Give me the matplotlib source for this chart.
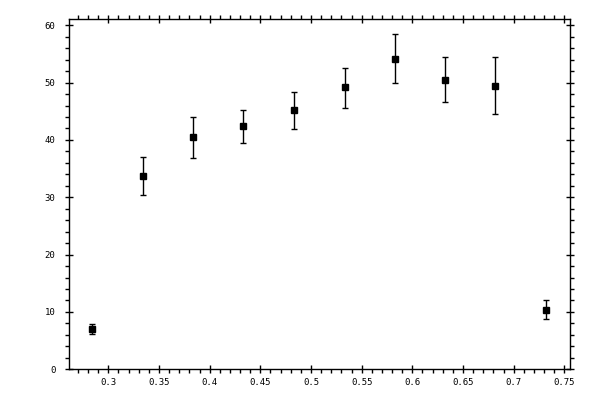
import matplotlib
matplotlib.use("Agg")
import matplotlib.pyplot as plt
from matplotlib.ticker import MultipleLocator, FixedLocator, FixedFormatter

x_vals = [0.2842, 0.3345, 0.3839, 0.4332, 0.4836, 0.5333, 0.5832, 0.6326, 0.6819, 0.7319]
y_vals = [7.0, 33.7, 40.5, 42.4, 45.2, 49.2, 54.1, 50.4, 49.4, 10.3]
err_low = [0.85, 3.35, 3.7, 3.0, 3.3, 3.7, 4.2, 3.8, 4.9, 1.5]
err_high = [0.85, 3.3, 3.45, 2.8, 3.1, 3.4, 4.3, 4.0, 5.0, 1.7]

x_ticks = [0.3, 0.35, 0.4, 0.45, 0.5, 0.55, 0.6, 0.65, 0.7, 0.75]
x_tick_labels = ["0.3", "0.35", "0.4", "0.45", "0.5", "0.55", "0.6", "0.65", "0.7", "0.75"]
y_ticks = [0, 10, 20, 30, 40, 50, 60]
y_tick_labels = ["0", "10", "20", "30", "40", "50", "60"]

fig = plt.figure(figsize=(6, 4), dpi=100)
ax = fig.add_axes([0.1155, 0.0768, 0.95 - 0.1155, 0.9518 - 0.0768])

ax.errorbar(x_vals, y_vals, yerr=[err_low, err_high], fmt='s', color='black',
            markersize=4.8, ecolor='black', elinewidth=1.0, capsize=2.2, capthick=1.0)

ax.set_xlim(0.2615, 0.7556)
ax.set_ylim(0, 61.05)

ax.xaxis.set_major_locator(FixedLocator(x_ticks))
ax.xaxis.set_major_formatter(FixedFormatter(x_tick_labels))
ax.yaxis.set_major_locator(FixedLocator(y_ticks))
ax.yaxis.set_major_formatter(FixedFormatter(y_tick_labels))
ax.xaxis.set_minor_locator(MultipleLocator(0.01))
ax.yaxis.set_minor_locator(MultipleLocator(2))

for s in ax.spines.values():
    s.set_linewidth(1.0)

ax.tick_params(which='major', direction='inout', length=6, width=1.0,
               top=True, right=True, labelsize=6.5)
ax.tick_params(which='minor', direction='out', length=3, width=1.0,
               top=True, right=True)
ax.tick_params(axis='x', which='major', pad=3)
ax.tick_params(axis='y', which='major', pad=7)
for lab in ax.get_xticklabels() + ax.get_yticklabels():
    lab.set_family('DejaVu Sans Mono')

fig.savefig("out.png", dpi=100)
